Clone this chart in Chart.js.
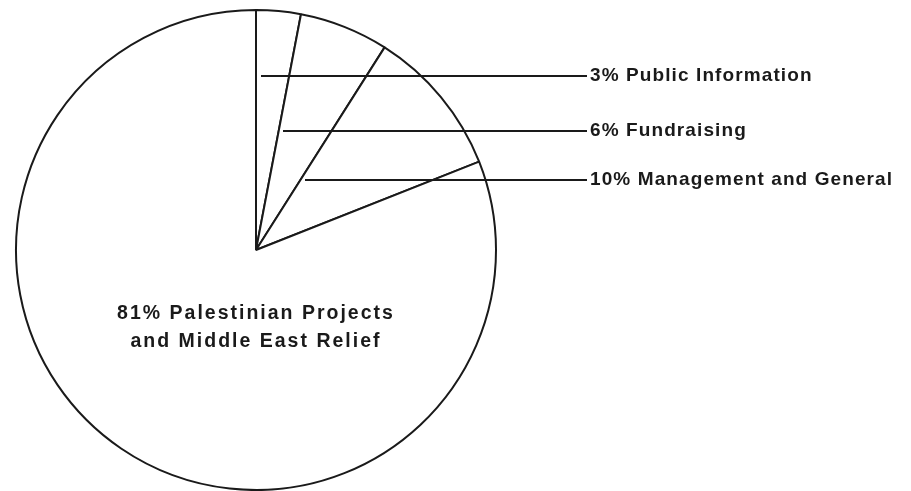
<!DOCTYPE html>
<html>
<head>
<meta charset="utf-8">
<script src="https://cdn.jsdelivr.net/npm/chart.js@4/dist/chart.umd.min.js"></script>
<style>
    html, body { margin: 0; padding: 0; background: #fff; }
    #wrap { width: 911px; height: 491px; position: relative; }
</style>
</head>
<body>
<div id="wrap"><canvas id="pieChart"></canvas></div>
<script>
// expense shares, clockwise from 12 o'clock
const categories = [
    'Public Information',
    'Fundraising',
    'Management and General',
    ['Palestinian Projects', 'and Middle East Relief']
];
const shares = [3, 6, 10, 81];

const INK = '#1a1a1a';
const FONT = '"Liberation Sans", Arial, Helvetica, sans-serif';

// leader lines for the three small slices: offsets from the pie centre
const leaders = [
    { dx: 5, dy: -174 },
    { dx: 27, dy: -119 },
    { dx: 49, dy: -70 }
];
const leaderEndX = 587;

const labelPlugin = {
    id: 'pieLabels',
    afterDatasetsDraw(chart) {
        const ctx = chart.ctx;
        const arc = chart.getDatasetMeta(0).data[0];
        const cx = arc.x, cy = arc.y;

        ctx.save();
        ctx.strokeStyle = INK;
        ctx.fillStyle = INK;
        ctx.lineWidth = 2;
        ctx.font = 'bold 19px ' + FONT;
        ctx.letterSpacing = '1.1px';
        ctx.textBaseline = 'alphabetic';
        ctx.textAlign = 'left';

        leaders.forEach((l, i) => {
            const y = cy + l.dy;
            ctx.beginPath();
            ctx.moveTo(cx + l.dx, y);
            ctx.lineTo(leaderEndX, y);
            ctx.stroke();
            ctx.fillText(shares[i] + '% ' + categories[i], leaderEndX + 3, y + 5);
        });

        // big slice label inside the pie
        const big = categories[3];
        ctx.font = 'bold 19.5px ' + FONT;
        ctx.letterSpacing = '2px';
        ctx.textAlign = 'center';
        ctx.fillText(shares[3] + '% ' + big[0], cx, cy + 69);
        ctx.fillText(big[1], cx, cy + 97);
        ctx.restore();
    }
};

new Chart(document.getElementById('pieChart'), {
    type: 'pie',
    data: {
        labels: categories,
        datasets: [{
            data: shares,
            backgroundColor: '#ffffff',
            borderColor: INK,
            borderWidth: 2,
            offset: 0,
            hoverOffset: 0
        }]
    },
    options: {
        responsive: true,
        maintainAspectRatio: false,
        animation: false,
        layout: { padding: { left: 15, top: 9, right: 414, bottom: 0 } },
        plugins: {
            legend: { display: false },
            tooltip: { enabled: false }
        }
    },
    plugins: [labelPlugin]
});
</script>
</body>
</html>
